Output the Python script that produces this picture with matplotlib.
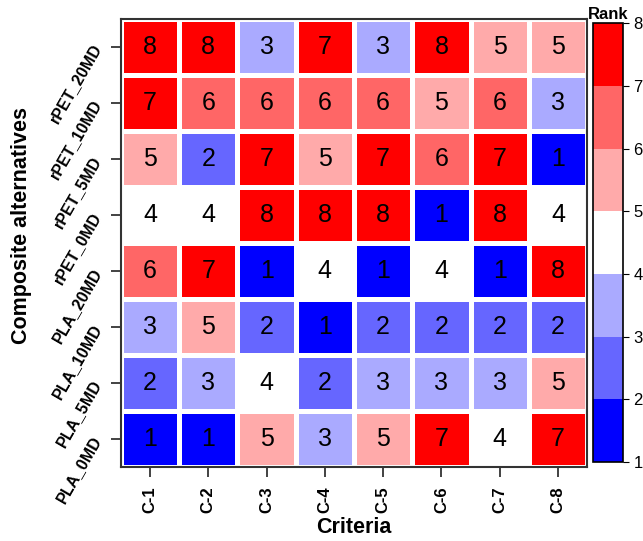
import numpy as np
import matplotlib
matplotlib.use("Agg")
import matplotlib.pyplot as plt
from matplotlib.colors import ListedColormap, BoundaryNorm
from matplotlib.transforms import ScaledTranslation

plt.rcParams['font.family'] = ['Liberation Sans', 'DejaVu Sans']

criteria = ["C-1", "C-2", "C-3", "C-4", "C-5", "C-6", "C-7", "C-8"]
alternatives = ["rPET_20MD", "rPET_10MD", "rPET_5MD", "rPET_0MD",
                "PLA_20MD", "PLA_10MD", "PLA_5MD", "PLA_0MD"]
ranks = [
    [8, 8, 3, 7, 3, 8, 5, 5],
    [7, 6, 6, 6, 6, 5, 6, 3],
    [5, 2, 7, 5, 7, 6, 7, 1],
    [4, 4, 8, 8, 8, 1, 8, 4],
    [6, 7, 1, 4, 1, 4, 1, 8],
    [3, 5, 2, 1, 2, 2, 2, 2],
    [2, 3, 4, 2, 3, 3, 3, 5],
    [1, 1, 5, 3, 5, 7, 4, 7],
]
bin_colors = ["#0000FF", "#6666FF", "#AAAAFF", "#FFFFFF", "#FFAAAA", "#FF6666", "#FF0000"]
bounds = [1, 2, 3, 4, 5, 6, 7, 8]

data = np.array(ranks)
nrow, ncol = data.shape
cmap = ListedColormap(bin_colors)
norm = BoundaryNorm(bounds, cmap.N, clip=True)

fig = plt.figure(figsize=(6.43, 5.41), dpi=100)
ax = fig.add_axes([0.188, 0.137, 0.725, 0.828])

plot_data = data[::-1]
mesh = ax.pcolormesh(np.arange(ncol + 1), np.arange(nrow + 1), plot_data,
                     cmap=cmap, norm=norm, edgecolors='white', linewidth=3.6)
for i in range(nrow):
    for j in range(ncol):
        ax.text(j + 0.5, nrow - i - 0.5, str(data[i, j]), ha='center', va='center',
                fontsize=18, color='black')

ax.set_xlim(0, ncol)
ax.set_ylim(0, nrow)
ax.tick_params(axis='both', length=7, width=1.2, color='#222222')
ax.tick_params(axis='x', pad=7)
ax.tick_params(axis='y', pad=6)
ax.set_xticks(np.arange(ncol) + 0.5)
ax.set_xticklabels(criteria, rotation=90, fontsize=12, fontweight='bold')
ax.set_yticks(np.arange(nrow) + 0.5)
ax.set_yticklabels(alternatives[::-1], rotation=60, fontsize=11.5, fontweight='bold',
                   ha='right', va='center', rotation_mode='anchor')
off = ScaledTranslation(-5 / 100, 2 / 100, fig.dpi_scale_trans)
for lab in ax.get_yticklabels():
    lab.set_transform(lab.get_transform() + off)
for s in ax.spines.values():
    s.set_linewidth(1.5)
    s.set_color('#333333')
ax.set_xlabel("Criteria", fontsize=15.5, fontweight='bold')
ax.xaxis.set_label_coords(0.5, -0.112)
ax.set_ylabel("Composite alternatives", fontsize=15.5, fontweight='bold')
ax.yaxis.set_label_coords(-0.191, 0.538)

cax = fig.add_axes([0.922, 0.146, 0.047, 0.811])
cb = fig.colorbar(mesh, cax=cax, boundaries=bounds, ticks=bounds)
cb.ax.tick_params(labelsize=12, length=4)
cb.outline.set_linewidth(1.2)
cax.set_title("Rank", fontsize=12, fontweight='bold', pad=3)

fig.savefig("out.png", dpi=100)
